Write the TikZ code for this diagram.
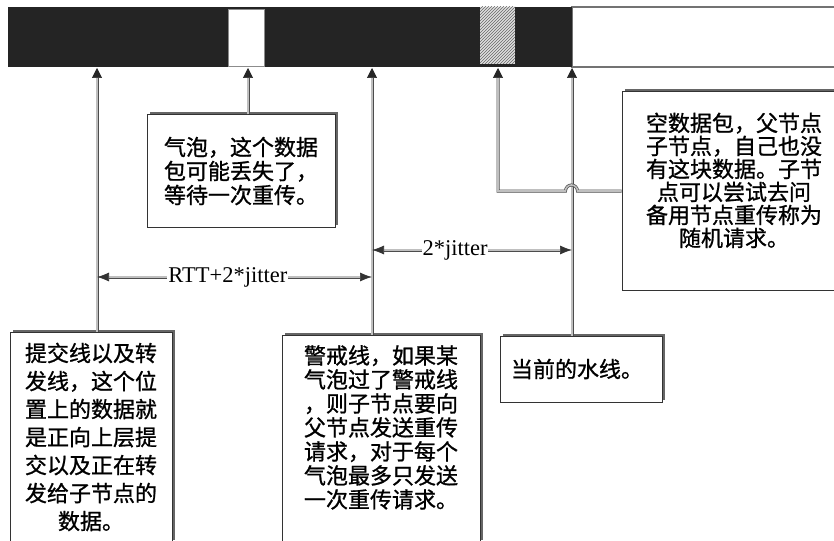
\documentclass[tikz,border=0pt]{standalone}
\usepackage{fontspec}
\setmainfont{Liberation Serif}
\newfontfamily\cjk[FakeBold=1]{Noto Sans CJK SC}
\usetikzlibrary{arrows.meta,patterns,shadows}
\begin{document}
\begin{tikzpicture}[x=1pt,y=-1pt,
  box/.style={draw=black!80, line width=1pt, fill=white, align=center,
    font=\cjk\fontsize{22}{24}\selectfont, inner sep=0pt,
    drop shadow={shadow xshift=2.5pt, shadow yshift=2.5pt, fill=black!60, opacity=1}},
  conn/.style={draw=black!70, line width=0.7pt, double=black!25, double distance=1.6pt,
    -{Triangle[length=10pt,width=10pt,color=black!85,fill=black!85]}},
  dimline/.style={draw=black!70, line width=0.7pt, double=black!25, double distance=1.6pt,
    {Latex[length=12pt,width=9pt,color=black!80,fill=black!80]}-{Latex[length=12pt,width=9pt,color=black!80,fill=black!80]}},
  dimlabel/.style={fill=white, inner sep=1pt, font=\fontsize{22.5}{22.5}\selectfont}
]
\useasboundingbox (0,0) rectangle (834,540);
\fill[white] (0,0) rectangle (834,540);

% the bar
\draw[black!55, line width=1.2pt] (572,7) rectangle (850,67);
\fill[black!86] (8,7) rectangle (572,67);
\fill[white] (228,9) rectangle (264,66);
\draw[black!45, line width=0.5pt] (228,9) rectangle (264,66);
\fill[black!12] (480,7) rectangle (515,64);
\fill[pattern=north east lines, pattern color=black!60] (480,7) rectangle (515,64);

% arrow targets on the bar
\coordinate (a1) at (97,68);
\coordinate (a2) at (248,68);
\coordinate (a3) at (372,68);
\coordinate (a4) at (498,68);
\coordinate (a5) at (572,68);

% boxes
\node[box, font=\cjk\fontsize{22}{28}\selectfont, minimum width=162pt, minimum height=210pt] (b1) at (91,437)
  {提交线以及转\\发线，这个位\\置上的数据就\\是正向上层提\\交以及正在转\\发给子节点的\\数据。};
\node[box, minimum width=188pt, minimum height=112pt] (b2) at (241,171)
  {气泡，这个数据\\包可能丢失了，\\等待一次重传。};
\node[box, minimum width=198pt, minimum height=207pt] (b3) at (381,438.5)
  {警戒线，如果某\\气泡过了警戒线\\，则子节点要向\\父节点发送重传\\请求，对于每个\\气泡最多只发送\\一次重传请求。\\~};
\node[box, minimum width=162pt, minimum height=66pt, text width=140pt, align=left, inner xsep=11pt] (b4) at (581,369)
  {当前的水线。};
\node[box, font=\cjk\fontsize{22}{23}\selectfont, minimum width=224pt, minimum height=198pt] (b5) at (734,191)
  {空数据包，父节点\\子节点，自己也没\\有这块数据。子节\\点可以尝试去问\\备用节点重传称为\\随机请求。\\~};

% connectors
\draw[conn] (a1 |- b1.north) -- (a1);
\draw[conn] (a2 |- b2.north) -- (a2);
\draw[conn] (a3 |- b3.north) -- (a3);
\draw[conn] (a5 |- b4.north) -- (a5);
\draw[conn] (b5.west) -- ++(-44,0) arc[start angle=0, end angle=-180, radius=6] -- (a4 |- b5.west) -- (a4);

% dimensions
\coordinate (r1) at (97,277);
\coordinate (r2) at (372,277);
\coordinate (j1) at (372,250);
\coordinate (j2) at (572,250);
\draw[dimline] (r1) -- (r2) node[dimlabel, pos=0.476] (lrtt) {RTT+2*jitter};
\draw[dimline] (j1) -- (j2) node[dimlabel, pos=0.415] (ljit) {2*jitter};
\end{tikzpicture}
\end{document}
